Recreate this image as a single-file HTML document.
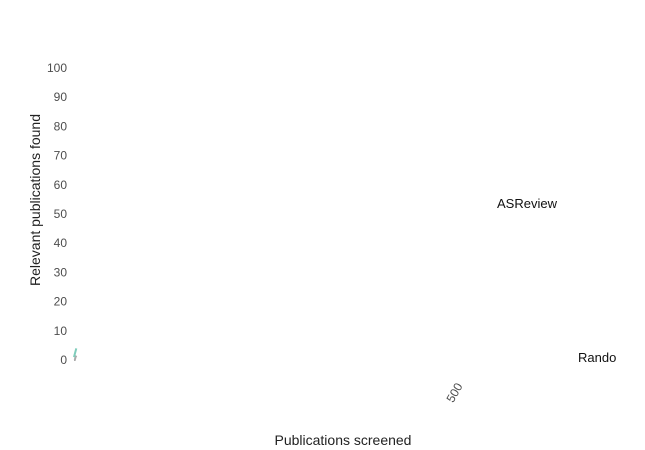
<!DOCTYPE html>
<html><head><meta charset="utf-8"><style>
body{margin:0;background:#fff;}
svg{display:block;font-family:"Liberation Sans",sans-serif;}
</style></head><body>
<svg width="645" height="450">
<g id="yticks"></g>
<g id="xticks"></g>
<g id="series"></g>
<text x="343" y="445" text-anchor="middle" font-size="14" fill="#222">Publications screened</text>
<text transform="translate(40,200) rotate(-90)" text-anchor="middle" font-size="14" fill="#222">Relevant publications found</text>
<text x="497" y="208" font-size="13" fill="#111">ASReview</text>
<text x="578" y="362" font-size="13" fill="#111">Rando</text>
</svg>
<script>
const yTicks=[0,10,20,30,40,50,60,70,80,90,100];
const xTicks=[500];
const screened=[0,1,2,3];
const asreview=[1,2,3,4];
const randomFound=[0,0,1,1.5];
const sx=v=>74+v*0.766, sy=v=>360-v*2.92;
const NS="http://www.w3.org/2000/svg";
const yt=document.getElementById('yticks');
yTicks.forEach(v=>{const t=document.createElementNS(NS,'text');


t.setAttribute('x',67);t.setAttribute('y',sy(v)+4);t.setAttribute('text-anchor','end');t.setAttribute('font-size','12');t.setAttribute('fill','#4d4d4d');t.textContent=v;yt.appendChild(t);});
const xt=document.getElementById('xticks');
xTicks.forEach(v=>{const t=document.createElementNS(NS,'text');


const x=sx(v)+6,y=386;t.setAttribute('transform',`translate(${x},${y}) rotate(-60)`);t.setAttribute('text-anchor','end');t.setAttribute('font-size','12');t.setAttribute('fill','#4d4d4d');t.textContent=v;xt.appendChild(t);});
const sg=document.getElementById('series');
function line(vals,color,name){const p=document.createElementNS(NS,'polyline');


p.setAttribute('points',screened.map((x,i)=>sx(x)+','+sy(vals[i])).join(' '));p.setAttribute('fill','none');p.setAttribute('stroke',color);p.setAttribute('stroke-width','2');sg.appendChild(p);}
line(randomFound,'#aaaaaa','random-line');
line(asreview,'#7fcdbb','asreview-line');
</script>
</body></html>
